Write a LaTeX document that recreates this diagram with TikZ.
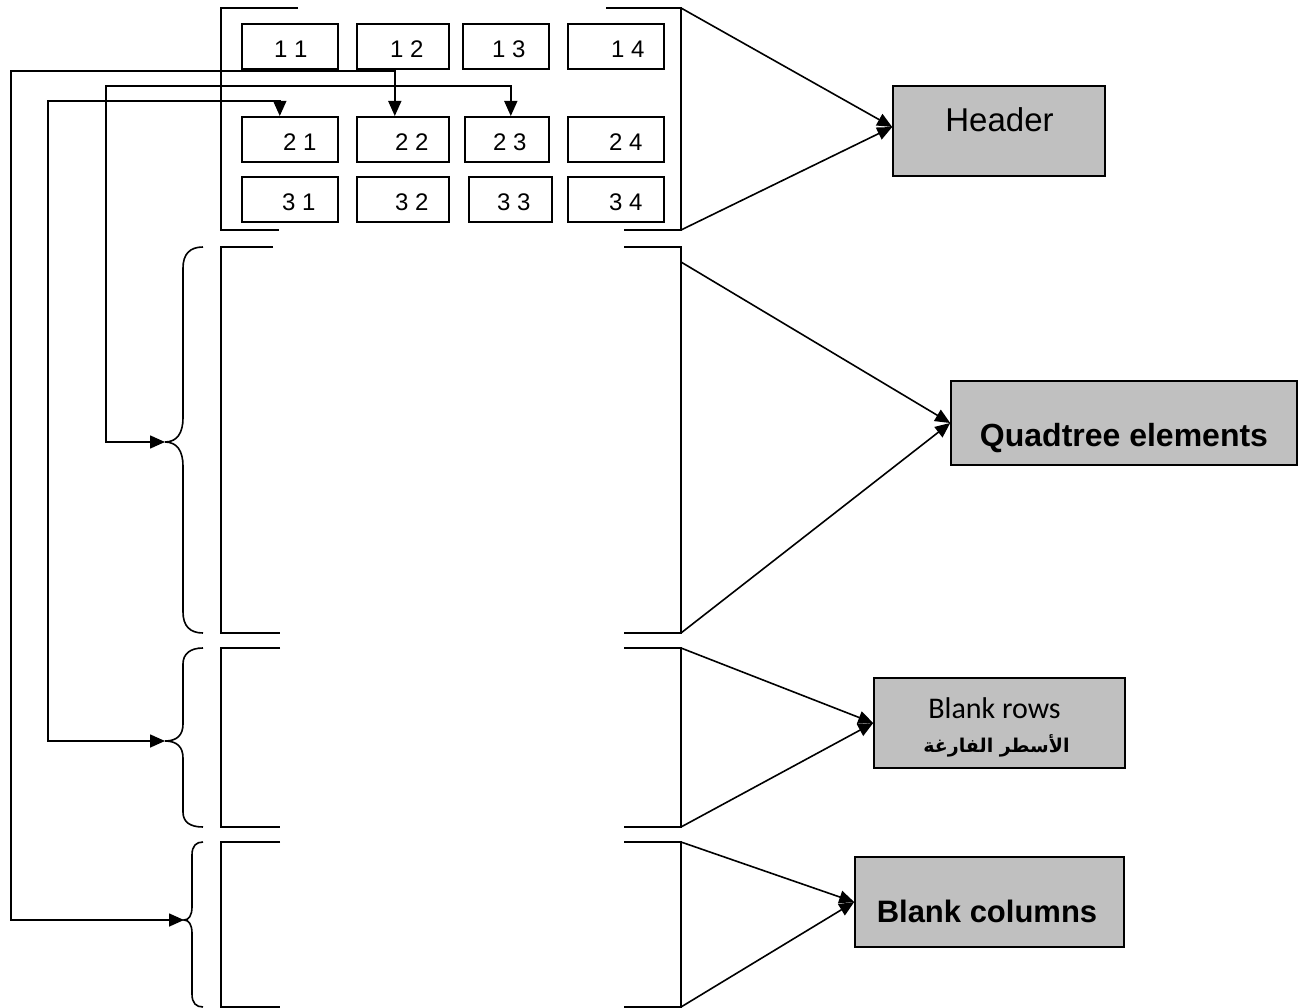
\documentclass[tikz,border=0pt]{standalone}
\usepackage{fontspec}
\setmainfont{Liberation Sans}
\newfontfamily\calibri{Carlito}
\newfontfamily\arabicfont[Script=Arabic]{DejaVu Sans}
\TeXXeTstate=1
\usetikzlibrary{arrows.meta}
\definecolor{boxgray}{HTML}{C0C0C0}
\tikzset{
  ln/.style={line width=1.6pt, line join=miter},
  arr/.style={ln, -{Triangle[length=15pt,width=13pt]}},
  biarr/.style={ln, {Triangle[length=15pt,width=13pt]}-{Triangle[length=15pt,width=13pt]}},
  cell/.style={draw, line width=1.6pt, minimum height=45pt, inner xsep=0pt, inner ysep=0pt,
    text height=34pt, text depth=11pt, font=\fontsize{24}{24}\selectfont},
  box/.style={draw, fill=boxgray, line width=1.6pt, inner sep=0pt},
  lbl/.style={anchor=base, inner sep=0pt}
}
\begin{document}
\begin{tikzpicture}[x=1pt,y=-1pt]
\useasboundingbox (0,0) rectangle (1306,1008);

% ---- cells ----
\node[cell, minimum width=96pt, anchor=north west] (c11) at (241,23)  {\hspace*{2pt}1 1};
\node[cell, minimum width=92pt, anchor=north west] (c12) at (356,23)  {\hspace*{8pt}1 2};
\node[cell, minimum width=86pt, anchor=north west] (c13) at (462,23)  {\hspace*{6pt}1 3};
\node[cell, minimum width=96pt, anchor=north west] (c14) at (567,23)  {\hspace*{24pt}1 4};
\node[cell, minimum width=96pt, anchor=north west] (c21) at (241,116) {\hspace*{20pt}2 1};
\node[cell, minimum width=92pt, anchor=north west] (c22) at (356,116) {\hspace*{18pt}2 2};
\node[cell, minimum width=84pt, anchor=north west] (c23) at (464,116) {\hspace*{6pt}2 3};
\node[cell, minimum width=96pt, anchor=north west] (c24) at (567,116) {\hspace*{20pt}2 4};
\node[cell, minimum width=96pt, anchor=north west] (c31) at (241,176) {\hspace*{18pt}3 1};
\node[cell, minimum width=92pt, anchor=north west] (c32) at (356,176) {\hspace*{18pt}3 2};
\node[cell, minimum width=83pt, anchor=north west] (c33) at (468,176) {\hspace*{7pt}3 3};
\node[cell, minimum width=96pt, anchor=north west] (c34) at (567,176) {\hspace*{20pt}3 4};

% ---- section brackets ----
\draw[ln] (298,8) -- (221,8) -- (221,230) -- (279,230);
\draw[ln] (606,8) -- (681,8) -- (681,230) -- (624,230);
\draw[ln] (273,247) -- (221,247) -- (221,633) -- (280,633);
\draw[ln] (624,247) -- (681,247) -- (681,633) -- (624,633);
\draw[ln] (280,648) -- (221,648) -- (221,827) -- (280,827);
\draw[ln] (624,648) -- (681,648) -- (681,827) -- (624,827);
\draw[ln] (280,842) -- (221,842) -- (221,1007) -- (280,1007);
\draw[ln] (624,842) -- (681,842) -- (681,1007) -- (624,1007);

% ---- brace tips ----
\coordinate (b2) at (165,442);
\coordinate (b3) at (165,741);
\coordinate (b4) at (184,920);

% ---- braces ----
\draw[ln] (203,247) .. controls (190,247) and (183,254) .. (183,268) -- (183,418)
  .. controls (183,433) and (177,442) .. (b2)
  .. controls (177,442) and (183,451) .. (183,466) -- (183,612)
  .. controls (183,626) and (190,633) .. (203,633);
\draw[ln] (203,648) .. controls (190,648) and (183,654) .. (183,664) -- (183,724)
  .. controls (183,735) and (177,741) .. (b3)
  .. controls (177,741) and (183,747) .. (183,758) -- (183,812)
  .. controls (183,822) and (190,827) .. (203,827);
\draw[ln] (203,842) .. controls (196,842) and (192,846) .. (192,855) -- (192,907)
  .. controls (192,915) and (189,920) .. (b4)
  .. controls (189,920) and (192,925) .. (192,933) -- (192,994)
  .. controls (192,1003) and (196,1007) .. (203,1007);

% ---- boxes ----
\node[box, minimum width=212pt, minimum height=90pt] (header) at (999,131) {};
\node[box, minimum width=346pt, minimum height=84pt] (quad) at (1124,423) {};
\node[box, minimum width=251pt, minimum height=90pt] (brows) at (999.5,723) {};
\node[box, minimum width=269pt, minimum height=90pt] (bcols) at (989.5,902) {};

\node[lbl, font=\fontsize{33}{33}\selectfont] (headerT) at (999.5,132) {Header};
\node[lbl, font=\bfseries\fontsize{32}{32}\selectfont] (quadT) at (1124,446) {Quadtree elements};
\node[lbl, font=\calibri\fontsize{30}{30}\selectfont] (browsT) at (994.5,718) {Blank rows};
\node[lbl, font=\arabicfont\bfseries\fontsize{19}{19}\selectfont] (browsA) at (996.5,752) {\beginR الأسطر الفارغة\endR};
\node[lbl, font=\bfseries\fontsize{31}{31}\selectfont] (bcolsT) at (987,922) {Blank columns};

% ---- bracket corners feeding the boxes ----
\coordinate (h1) at (681,8);
\coordinate (h2) at (681,230);
\coordinate (q1) at (681,262);
\coordinate (q2) at (681,633);
\coordinate (r1) at (681,648);
\coordinate (r2) at (681,827);
\coordinate (s1) at (681,842);
\coordinate (s2) at (681,1007);

\draw[arr] (h1) -- ([yshift=4pt]header.west);
\draw[arr] (h2) -- ([yshift=4pt]header.west);
\draw[arr] (q1) -- (quad.west);
\draw[arr] (q2) -- (quad.west);
\draw[arr] (r1) -- (brows.west);
\draw[arr] (r2) -- (brows.west);
\draw[arr] (s1) -- (bcols.west);
\draw[arr] (s2) -- (bcols.west);

% ---- routing connectors from braces to cells ----
\coordinate (k1) at (11,71);
\coordinate (k2) at (106,86);
\coordinate (k3) at (48,101);
\draw[biarr] (b4) -| (k1) -| ([xshift=-8pt]c22.north);
\draw[biarr] (b2) -| (k2) -| ([xshift=4pt]c23.north);
\draw[biarr] (b3) -| (k3) -| ([xshift=-10pt]c21.north);
\end{tikzpicture}
\end{document}
